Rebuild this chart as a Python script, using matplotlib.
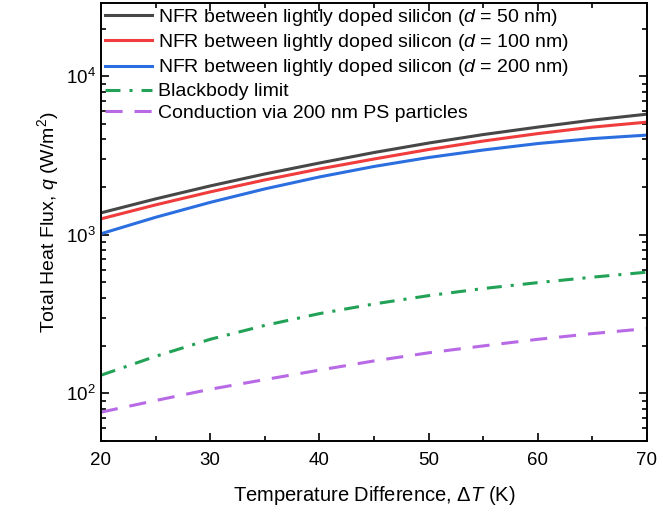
import numpy as np
import matplotlib
matplotlib.use("Agg")
import matplotlib.pyplot as plt
from matplotlib.ticker import MultipleLocator, LogLocator

# data (W/m^2)
dT = [20, 25, 30, 35, 40, 45, 50, 55, 60, 65, 70]
nfr_50 = [1375, 1684, 2033, 2419, 2836, 3303, 3790, 4287, 4778, 5288, 5768]
nfr_100 = [1260, 1544, 1864, 2218, 2601, 3006, 3450, 3902, 4348, 4778, 5137]
nfr_200 = [1015, 1289, 1601, 1947, 2316, 2697, 3072, 3425, 3763, 4045, 4255]
blackbody = [130, 171, 219, 268, 318, 366, 413, 458, 499, 540, 581]
conduction = [76, 90, 106, 122, 140, 160, 180, 199, 219, 238, 256]

labels = [
    "NFR between lightly doped silicon ($d$ = 50 nm)",
    "NFR between lightly doped silicon ($d$ = 100 nm)",
    "NFR between lightly doped silicon ($d$ = 200 nm)",
    "Blackbody limit",
    "Conduction via 200 nm PS particles",
]

plt.rcParams['font.family'] = ['Liberation Sans', 'DejaVu Sans']
plt.rcParams['mathtext.fontset'] = 'custom'
plt.rcParams['mathtext.rm'] = 'Liberation Sans'
plt.rcParams['mathtext.it'] = 'Liberation Sans:italic'
plt.rcParams['mathtext.bf'] = 'Liberation Sans:bold'

fig = plt.figure(figsize=(6.63, 5.23), dpi=100)
ax = fig.add_axes([0.1523, 0.1568, 0.8235, 0.8375])

lw = 2.2
ax.plot(dT, nfr_50, color='#474747', lw=lw, label=labels[0])
ax.plot(dT, nfr_100, color='#f03c3c', lw=lw, label=labels[1])
ax.plot(dT, nfr_200, color='#2a6ee0', lw=lw, label=labels[2])
ax.plot(dT, blackbody, color='#22a256', lw=lw, dashes=(4.9, 2.95, 1.0, 2.95), label=labels[3])
ax.plot(dT, conduction, color='#b86ae6', lw=lw, dashes=(5.6, 3.9), label=labels[4])

ax.set_yscale('log')
ax.set_xlim(20, 70)
ax.set_ylim(50, 2.9e4)
ax.xaxis.set_major_locator(MultipleLocator(10))
ax.xaxis.set_minor_locator(MultipleLocator(5))
ax.yaxis.set_minor_locator(LogLocator(base=10, subs=np.arange(2, 10), numticks=20))

ax.tick_params(which='both', direction='in', top=True, right=True, width=1.2, labelsize=13.5)
ax.tick_params(which='major', length=6)
ax.tick_params(which='minor', length=3.5)
ax.tick_params(axis='x', pad=8)
for sp in ax.spines.values():
    sp.set_linewidth(1.4)

ax.set_xlabel("Temperature Difference, $\\Delta T$ (K)", fontsize=14.5, labelpad=11)
ax.set_ylabel("Total Heat Flux, $q$ (W/m$^2$)", fontsize=14, labelpad=4)

ax.legend(loc='upper left', frameon=False, fontsize=14, handlelength=2.4,
          handletextpad=0.35, labelspacing=0.22, borderaxespad=0.1,
          borderpad=0.1)

fig.savefig("out.png", dpi=100)
plt.close()
